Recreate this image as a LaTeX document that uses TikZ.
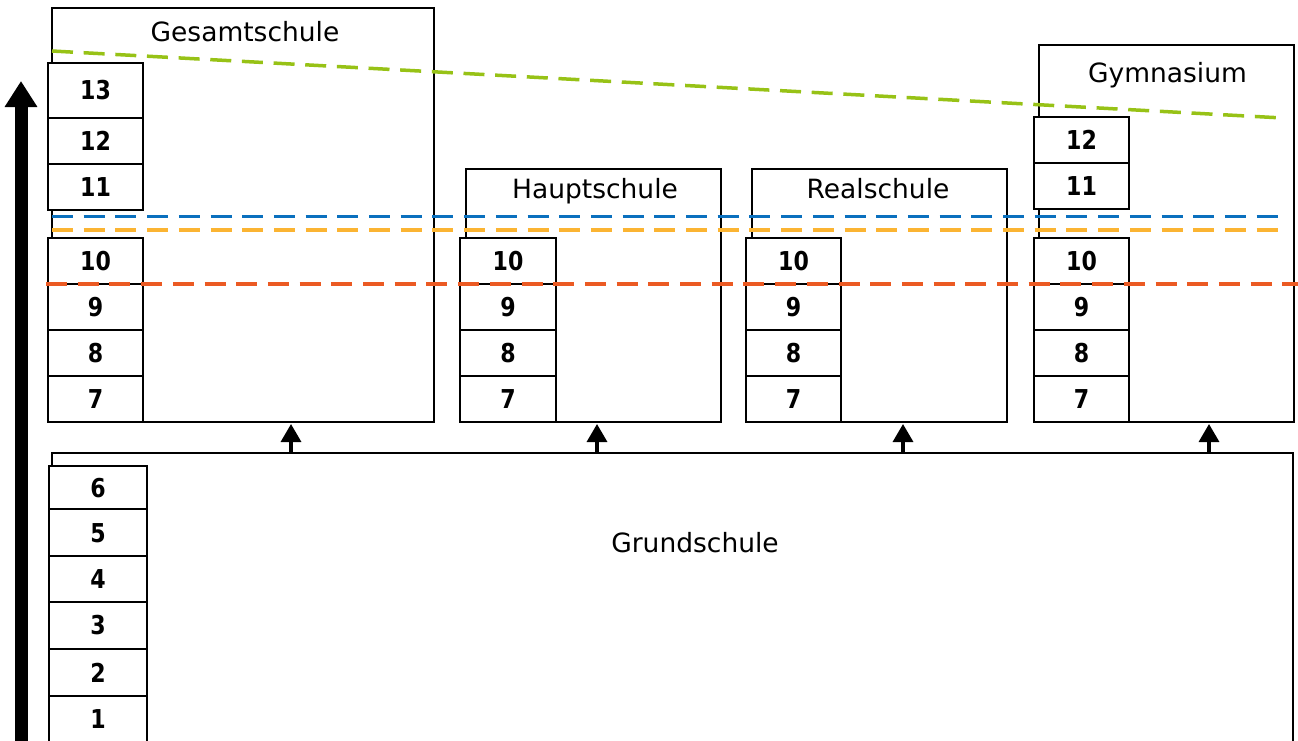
\documentclass[tikz,border=0pt]{standalone}
\usepackage{fontspec}
\setmainfont{DejaVu Sans}
\newfontfamily\digitfont{DejaVu Sans}[FakeStretch=0.85]
\usetikzlibrary{arrows.meta}
\definecolor{lblue}{HTML}{0A70BE}
\definecolor{lorange}{HTML}{FBB432}
\definecolor{lred}{HTML}{EB5A23}
\definecolor{lgreen}{HTML}{97C216}
\begin{document}
\begin{tikzpicture}[x=1pt,y=-1pt,
  box/.style={draw, line width=1.9pt, inner sep=0pt, outer sep=0pt, anchor=north west},
  cell/.style={draw, fill=white, line width=1.9pt, minimum width=95.5pt, minimum height=46pt,
    inner sep=0pt, outer sep=0pt, font=\digitfont\fontsize{26}{28}\selectfont\bfseries},
  title/.style={anchor=base, inner sep=0pt, font=\fontsize{26.5}{30}\selectfont},
  divline/.style={line width=3.5pt, dash pattern=on 21pt off 10.7pt},
  uparrow/.style={line width=3.3pt, -{Triangle[length=18pt,width=20pt]}},
  bigarrow/.style={line width=13pt, -{Triangle[length=26pt,width=31pt]}}]
\useasboundingbox (0,0) rectangle (1298,740);
% boxes
\node[box, minimum width=382pt, minimum height=414pt] (gesamt) at (52,8) {};
\node[box, minimum width=255pt, minimum height=253pt] (haupt) at (466,169) {};
\node[box, minimum width=255pt, minimum height=253pt] (real) at (752,169) {};
\node[box, minimum width=255pt, minimum height=377pt] (gym) at (1039,45) {};
\node[box, minimum width=1241pt, minimum height=320pt] (grund) at (52,453) {};
% titles
\node[title] (tgesamt) at (245,41.5) {Gesamtschule};
\node[title] (thaupt) at (595,198) {Hauptschule};
\node[title] (treal) at (878,198) {Realschule};
\node[title] (tgym) at (1167.5,82) {Gymnasium};
\node[title] (tgrund) at (695,552) {Grundschule};
% Gesamtschule cells
\node[cell, minimum height=55.3pt] (g13) at (95.5,90.3) {13};
\node[cell] (g12) at (95.5,141) {12};
\node[cell] (g11) at (95.5,187) {11};
\node[cell] (g10) at (95.5,260.7) {10};
\node[cell] (g9) at (95.5,306.7) {9};
\node[cell] (g8) at (95.5,352.7) {8};
\node[cell] (g7) at (95.5,398.7) {7};
% Hauptschule cells
\node[cell] (h10) at (508,260.7) {10};
\node[cell] (h9) at (508,306.7) {9};
\node[cell] (h8) at (508,352.7) {8};
\node[cell] (h7) at (508,398.7) {7};
% Realschule cells
\node[cell] (r10) at (793.6,260.7) {10};
\node[cell] (r9) at (793.6,306.7) {9};
\node[cell] (r8) at (793.6,352.7) {8};
\node[cell] (r7) at (793.6,398.7) {7};
% Gymnasium cells
\node[cell] (y12) at (1081.5,140.2) {12};
\node[cell] (y11) at (1081.5,186) {11};
\node[cell] (y10) at (1081.5,260.7) {10};
\node[cell] (y9) at (1081.5,306.7) {9};
\node[cell] (y8) at (1081.5,352.7) {8};
\node[cell] (y7) at (1081.5,398.7) {7};
% Grundschule cells
\node[cell, minimum width=98pt, minimum height=43.3pt] (s6) at (98,487.7) {6};
\node[cell, minimum width=98pt, minimum height=46.7pt] (s5) at (98,532.7) {5};
\node[cell, minimum width=98pt, minimum height=45.7pt] (s4) at (98,578.9) {4};
\node[cell, minimum width=98pt, minimum height=47.3pt] (s3) at (98,625.4) {3};
\node[cell, minimum width=98pt, minimum height=46.7pt] (s2) at (98,672.4) {2};
\node[cell, minimum width=98pt, minimum height=46.3pt] (s1) at (98,718.9) {1};
% small arrows
\coordinate (a1) at (291,424);
\coordinate (a2) at (597,424);
\coordinate (a3) at (903,424);
\coordinate (a4) at (1209,424);
\foreach \a in {a1,a2,a3,a4}
  \draw[uparrow] (\a |- grund.north) -- (\a);
% big arrow
\coordinate (bigtop) at (21,81);
\coordinate (bigbot) at (21,760);
\draw[bigarrow] (bigbot) -- (bigtop);
% dashed lines
\coordinate (gl) at (52,51);
\coordinate (gr) at (1283,118);
\draw[divline, lgreen] (gl) -- (gr);
\coordinate (bl) at (52,216.7);
\coordinate (br) at (1283,216.7);
\draw[divline, lblue] (bl) -- (br);
\coordinate (ol) at (52,230);
\coordinate (or) at (1283,230);
\draw[divline, lorange] (ol) -- (or);
\coordinate (rl) at (46,284);
\coordinate (rr) at (1298,284);
\draw[divline, lred] (rl) -- (rr);
\end{tikzpicture}
\end{document}
